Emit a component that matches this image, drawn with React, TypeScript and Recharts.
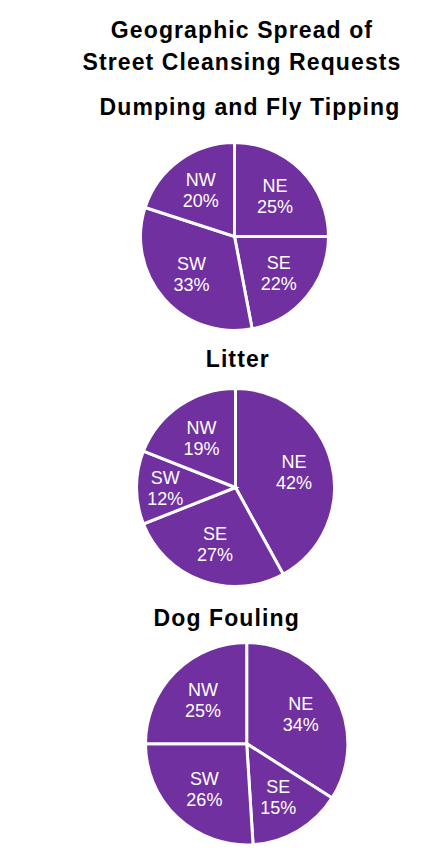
import React from "react";
import { PieChart, Pie, Cell } from "recharts";

// Titles
const TITLE_LINES = ["Geographic Spread of", "Street Cleansing Requests"];
const CHART_TITLES = ["Dumping and Fly Tipping", "Litter", "Dog Fouling"];

// Regions go clockwise from 12 o'clock
const REGIONS = ["NE", "SE", "SW", "NW"];

// Percent of requests per region
const DUMPING_FLY_TIPPING = [25, 22, 33, 20];
const LITTER = [42, 27, 12, 19];
const DOG_FOULING = [34, 15, 26, 25];

const PURPLE = "#7030A0";
const FONT = "'Liberation Sans', Arial, Helvetica, sans-serif";
const RADIAN = Math.PI / 180;

type Slice = { region: string; value: number };

const toSlices = (values: number[]): Slice[] =>
    REGIONS.map((region, i) => ({ region, value: values[i] }));

// layout of each pie: centre and visible radius
const PIES = [
    { title: CHART_TITLES[0], values: DUMPING_FLY_TIPPING, cx: 234, cy: 236.5, r: 92.5, titleX: 250, titleTop: 91 },
    { title: CHART_TITLES[1], values: LITTER, cx: 235.8, cy: 487.5, r: 97.5, titleX: 237.8, titleTop: 343.3 },
    { title: CHART_TITLES[2], values: DOG_FOULING, cx: 246.3, cy: 743.7, r: 99.7, titleX: 226.7, titleTop: 602 },
];

const STROKE = 3;
const PAD = 6;

const titleStyle = (centerX: number, top: number): React.CSSProperties => ({
    position: "absolute",
    left: centerX - 220,
    width: 440,
    top,
    textAlign: "center",
    fontFamily: FONT,
    fontWeight: 700,
    fontSize: 23,
    lineHeight: "32px",
    letterSpacing: 1.1,
    color: "#000",
    whiteSpace: "nowrap",
});

function RegionPie({ values, r }: { values: number[]; r: number }) {
    const data = toSlices(values);
    const size = 2 * r + 2 * PAD;

    const renderLabel = (props: any) => {
        const { cx, cy, midAngle, index } = props;
        const slice = data[index];
        if (!slice) return null;
        // narrow slices push their label further out
        const rr = r * (slice.value < 15 ? 0.72 : 0.62);
        const x = cx + rr * Math.cos(-midAngle * RADIAN);
        const y = cy + rr * Math.sin(-midAngle * RADIAN);
        return (
            <text
                x={x}
                y={y}
                textAnchor="middle"
                fill="#ffffff"
                fontFamily={FONT}
                fontSize={18}
            >
                <tspan x={x} y={y - 4}>
                    {slice.region}
                </tspan>
                <tspan x={x} y={y + 17}>
                    {slice.value}%
                </tspan>
            </text>
        );
    };

    return (
        <PieChart width={size} height={size} margin={{ top: 0, right: 0, bottom: 0, left: 0 }}>
            <Pie
                data={data}
                dataKey="value"
                nameKey="region"
                cx="50%"
                cy="50%"
                outerRadius={r + STROKE / 2}
                startAngle={90}
                endAngle={-270}
                stroke="#ffffff"
                strokeWidth={STROKE}
                label={renderLabel}
                labelLine={false}
                isAnimationActive={false}
            >
                {data.map((s) => (
                    <Cell key={s.region} fill={PURPLE} />
                ))}
            </Pie>
        </PieChart>
    );
}

export default function App() {
    return (
        <div
            style={{
                position: "relative",
                width: 446,
                height: 854,
                margin: -8,
                background: "#fff",
                overflow: "hidden",
            }}
        >
            {/* rule across the top */}
            <div
                style={{
                    position: "absolute",
                    left: 0,
                    top: 5,
                    width: 446,
                    height: 3,
                    background: "#000",
                }}
            />

            <div style={titleStyle(242, 14.3)}>
                {TITLE_LINES.map((line) => (
                    <div key={line}>{line}</div>
                ))}
            </div>

            {PIES.map((p) => (
                <React.Fragment key={p.title}>
                    <div style={titleStyle(p.titleX, p.titleTop)}>{p.title}</div>
                    <div
                        style={{
                            position: "absolute",
                            left: p.cx - p.r - PAD,
                            top: p.cy - p.r - PAD,
                        }}
                    >
                        <RegionPie values={p.values} r={p.r} />
                    </div>
                </React.Fragment>
            ))}
        </div>
    );
}
